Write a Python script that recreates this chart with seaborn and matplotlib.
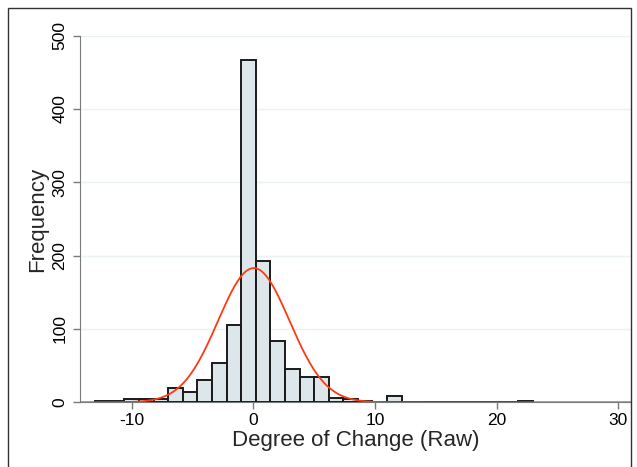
import numpy as np
import pandas as pd
import matplotlib
matplotlib.use("Agg")
import matplotlib.pyplot as plt
import seaborn as sns

# ---- data ----
bin_start = -13.0
bin_width = 1.2
counts = [2, 2, 5, 5, 5, 20, 14, 30, 54, 105, 467, 193, 84, 45, 35, 35,
          6, 5, 2, 0, 8, 0, 0, 0, 0, 0, 0, 0, 0, 2]
x_ticks = [-10, 0, 10, 20, 30]
y_ticks = [0, 100, 200, 300, 400, 500]
x_label = "Degree of Change (Raw)"
y_label = "Frequency"

edges = bin_start + bin_width * np.arange(len(counts) + 1)
mids = (edges[:-1] + edges[1:]) / 2
df = pd.DataFrame({"value": mids, "count": counts})

# normal curve from the binned data (like Stata's `normal` option)
n = float(np.sum(counts))
mu = float(np.sum(df["value"] * df["count"]) / n)
sd = float(np.sqrt(np.sum(df["count"] * (df["value"] - mu) ** 2) / n))
xs = np.linspace(-14.2, 31.0, 600)
curve = pd.DataFrame({"x": xs,
                      "y": n * bin_width / (sd * np.sqrt(2 * np.pi)) * np.exp(-0.5 * ((xs - mu) / sd) ** 2)})

sns.set_style("white")
plt.rcParams["font.family"] = ["Liberation Sans", "DejaVu Sans"]
plt.rcParams["axes.unicode_minus"] = False

fig = plt.figure(figsize=(6.37, 4.67), dpi=100)
ax = fig.add_axes([80 / 637, 1 - 402.3 / 467, (631 - 80) / 637, (402.3 - 35.6) / 467])

sns.histplot(data=df, x="value", weights="count", binwidth=bin_width,
             binrange=(float(edges[0]), float(edges[-1])), ax=ax,
             color="#dde7eb", edgecolor="#1a1a1a", linewidth=1.4, alpha=1.0)
sns.lineplot(data=curve, x="x", y="y", ax=ax, color="#ff3a12", linewidth=1.3)

ax.set_xlim(-14.25, 31.06)
ax.set_ylim(0, 500)
ax.set_xticks(x_ticks)
ax.set_yticks(y_ticks)
ax.set_xticklabels([str(t) for t in x_ticks])
ax.set_yticklabels([str(t) for t in y_ticks], rotation=90, va="center")
ax.tick_params(axis="both", direction="out", length=5, width=1, color="#7a7a7a",
               labelsize=12.5, labelcolor="black", left=True, bottom=True)
ax.tick_params(axis="y", pad=4)
ax.tick_params(axis="x", pad=3)
ax.set_xlabel(x_label, fontsize=16, labelpad=1)
ax.set_ylabel(y_label, fontsize=16, labelpad=3)

ax.grid(axis="y", color="#eaf2f3", linewidth=1.0)
ax.set_axisbelow(True)
for s in ["top", "right"]:
    ax.spines[s].set_visible(False)
ax.spines["left"].set_color("#7a7a7a")
ax.spines["bottom"].set_color("#7a7a7a")
ax.spines["left"].set_bounds(0, 500)

# outer graph-region border
fig.patches.append(plt.Rectangle((8 / 637, -0.01), (631 - 8) / 637, 1 - 8 / 467 + 0.01,
                                 transform=fig.transFigure, fill=False,
                                 edgecolor="#333333", linewidth=1.0))

fig.savefig("out.png", dpi=100, facecolor="white")
